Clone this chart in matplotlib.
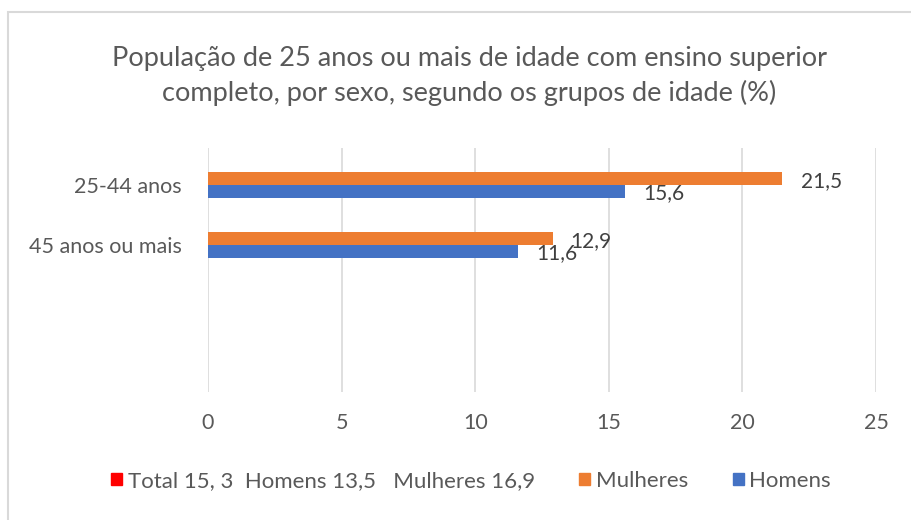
import matplotlib.pyplot as plt
from matplotlib.patches import Patch, Rectangle
import numpy as np

plt.rcParams['font.family'] = ['Lato', 'DejaVu Sans']

# data
categorias = ['25-44 anos', '45 anos ou mais']
mulheres = [21.5, 12.9]
homens = [15.6, 11.6]
rotulo_mulheres = ['21,5', '12,9']
rotulo_homens = ['15,6', '11,6']
nome_total = 'Total 15, 3  Homens 13,5   Mulheres 16,9'
titulo = 'População de 25 anos ou mais de idade com ensino superior\ncompleto, por sexo, segundo os grupos de idade (%)'

cor_mulheres = '#ed7d31'
cor_homens = '#4472c4'
cor_total = '#ff0000'
cinza = '#595959'

fig = plt.figure(figsize=(9.11, 5.20), dpi=100)
ax = fig.add_axes([208/911, 1-392/520, 668/911, 244/520])

y = np.arange(len(categorias))
h = 0.215
ax.barh(y - h/2, mulheres, height=h, color=cor_mulheres, label='Mulheres', zorder=3)
ax.barh(y + h/2, homens, height=h, color=cor_homens, label='Homens', zorder=3)

# data labels
for i in range(len(categorias)):
    ax.annotate(rotulo_mulheres[i], (mulheres[i], y[i] - h/2), xytext=(13, -1.5),
                textcoords='offset points', va='center', ha='left', fontsize=15, color='#404040')
    ax.annotate(rotulo_homens[i], (homens[i], y[i] + h/2), xytext=(13, -1),
                textcoords='offset points', va='center', ha='left', fontsize=15, color='#404040')

ax.set_xlim(0, 25)
ax.set_xticks([0, 5, 10, 15, 20, 25])
ax.set_ylim(3.45, -0.617)
ax.set_yticks(y)
ax.set_yticklabels(categorias)
ax.tick_params(axis='y', length=0, pad=19, labelsize=15.5, labelcolor=cinza)
ax.tick_params(axis='x', length=0, pad=15, labelsize=15.5, labelcolor=cinza)
ax.grid(axis='x', color='#d9d9d9', linewidth=1.2, zorder=0)
for s in ax.spines.values():
    s.set_visible(False)

fig.text(469/911, 1-76/520, titulo, ha='center', va='center', fontsize=19.5,
         color=cinza, linespacing=1.45)

handles = [Patch(color=cor_total, label=nome_total),
           Patch(color=cor_mulheres, label='Mulheres'),
           Patch(color=cor_homens, label='Homens')]
leg = fig.legend(handles=handles, loc='center', bbox_to_anchor=(471/911, 1-481/520), ncol=3,
                 frameon=False, fontsize=16, handlelength=0.5, handleheight=0.5,
                 handletextpad=0.25, columnspacing=2.0)
for t in leg.get_texts():
    t.set_color(cinza)

# chart border
fig.patches.append(Rectangle((8/911, -0.1), 1.2, 1-12/520+0.1, transform=fig.transFigure,
                             fill=False, edgecolor='#d9d9d9', linewidth=1.5))

fig.savefig('out.png', dpi=100)
